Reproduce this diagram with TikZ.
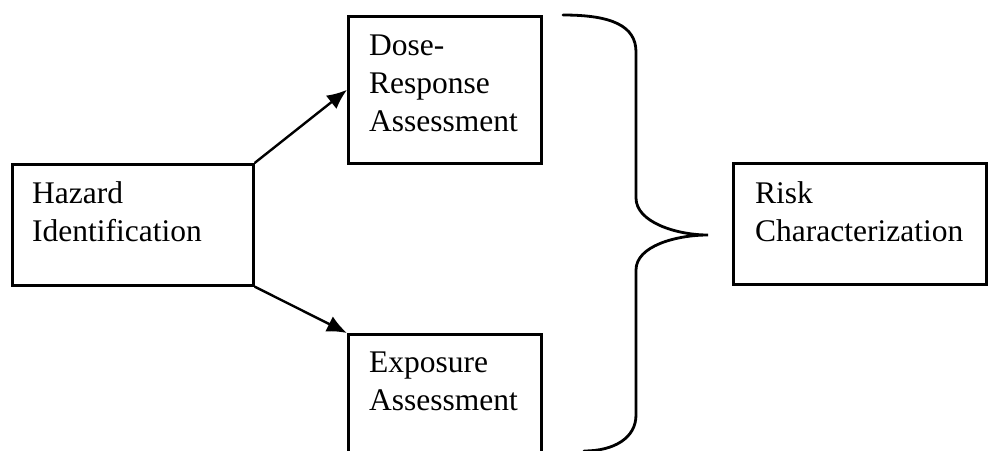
\documentclass[tikz,border=0pt]{standalone}
\usepackage{fontspec}
\setmainfont{Liberation Serif}
\usetikzlibrary{arrows.meta}
\begin{document}
\begin{tikzpicture}[x=1pt,y=-1pt,
  boxframe/.style={draw=black, line width=2.6pt, inner sep=0pt, fill=none},
  boxtext/.style={anchor=base west, inner sep=0pt, align=left,
    font=\fontsize{31.5}{38}\selectfont},
  flow/.style={line width=2.4pt, -{Latex[length=20pt,width=17pt]}},
  brace/.style={line width=2.8pt, line cap=round}]
  \clip (0,0) rectangle (988,450);
  \fill[white] (0,0) rectangle (988,450);

  % process boxes
  \node[boxframe, minimum width=241pt, minimum height=121pt, anchor=north west] (haz) at (11,163) {};
  \node[boxframe, minimum width=193pt, minimum height=147pt, anchor=north west] (dose) at (347,15) {};
  \node[boxframe, minimum width=193pt, minimum height=147pt, anchor=north west] (expo) at (347,333) {};
  \node[boxframe, minimum width=253pt, minimum height=121pt, anchor=north west] (risk) at (732,162) {};

  % box captions (anchored at the baseline of their last line)
  \node[boxtext] (hazt) at (32,241) {Hazard\\Identification};
  \node[boxtext] (doset) at (369,131) {Dose-\\Response\\Assessment};
  \node[boxtext] (expot) at (369,410) {Exposure\\Assessment};
  \node[boxtext] (riskt) at (755,241) {Risk\\Characterization};

  % hazard identification feeds both assessments
  \draw[flow] (haz.north east) -- (dose.west);
  \draw[flow] (haz.south east) -- (expo.north west);

  % brace gathering both assessments into risk characterization
  \coordinate (btop) at (563,15);
  \coordinate (btip) at (708,235);
  \coordinate (bbot) at (584,451);
  \draw[brace] (btop) .. controls (612,15) and (636,26) .. (636,52)
    -- (636,198) .. controls (636,222) and (676,235) .. (btip)
    .. controls (676,235) and (636,246) .. (636,270)
    -- (636,415) .. controls (636,438) and (614,451) .. (bbot);
\end{tikzpicture}
\end{document}
